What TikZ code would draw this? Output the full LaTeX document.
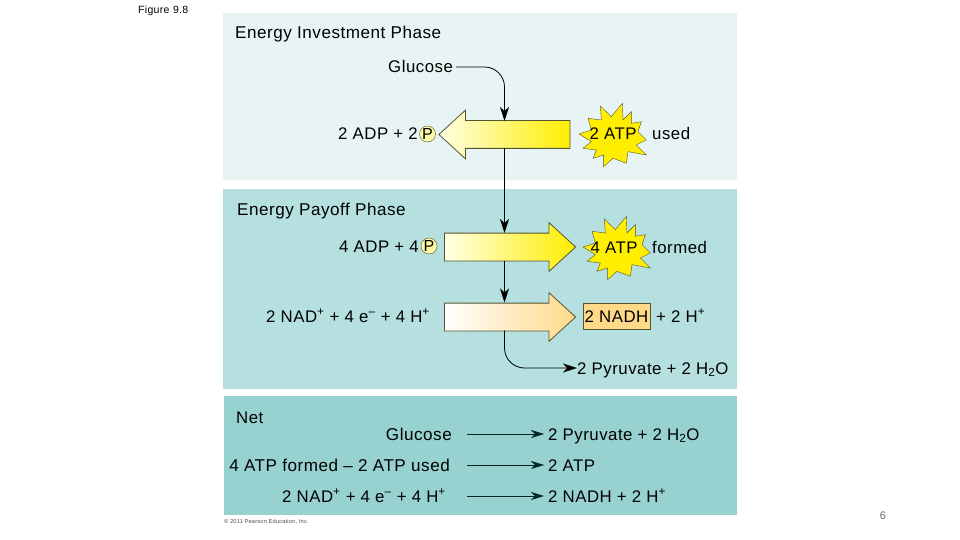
\documentclass[tikz,border=0pt]{standalone}
\usepackage{fontspec}
\setmainfont[LetterSpace=3]{Liberation Sans}
\usepackage{tikz}
\usetikzlibrary{positioning,arrows.meta,shapes.arrows}

\definecolor{paleteal}{HTML}{E8F4F4}
\definecolor{midteal}{HTML}{B5E0DF}
\definecolor{deepteal}{HTML}{97D2D1}
\definecolor{burst}{HTML}{FFEE00}
\definecolor{nadh}{HTML}{FFD98A}
\definecolor{edgeolive}{HTML}{55552F}

\newcommand{\atpburst}[2]{\draw[fill=burst, draw=edgeolive, shift={(#1,#2)}, x=.333pt, y=-.333pt]
    (-28,95) -- (0,70) -- (40,85) -- (45,50) -- (100,60) -- (70,30) -- (100,15) -- (75,-10)
    -- (85,-40) -- (55,-35) -- (55,-70) -- (30,-45) -- (28,-95) -- (-5,-55) -- (-38,-87)
    -- (-35,-45) -- (-75,-50) -- (-65,-15) -- (-102,-3) -- (-65,20) -- (-90,40) -- (-50,45)
    -- (-60,70) -- (-28,60) -- cycle;}

\begin{document}
\begin{tikzpicture}[x=1pt, y=-1pt]
        \tikzstyle{lbl}=[inner sep=0, text height=12pt, text depth=0pt, anchor=west, font=\fontsize{16.8}{18}\selectfont]
        \tikzstyle{widelbl}=[lbl, font=\fontsize{17.1}{18}\selectfont]
        \tikzstyle{blockarrow}=[single arrow, draw=edgeolive, thick, text height=27pt, text depth=0pt, minimum height=131pt, minimum width=48pt, single arrow head extend=10.5pt, single arrow tip angle=85, inner sep=0, outer sep=0]
        \tikzstyle{yellowarrow}=[blockarrow, left color=white!90!yellow, middle color=yellow!35!white, right color=burst]
        \tikzstyle{phos}=[circle, draw=edgeolive, fill=yellow!35!white, minimum size=16pt, inner sep=0, font=\fontsize{16}{18}\selectfont]
        \tikzstyle{flow}=[-{Stealth[length=14pt, width=9pt, inset=4pt]}, thick, black]
        \tikzstyle{netflow}=[-{Stealth[length=13pt, width=8pt, inset=4pt]}, black!70!teal, shorten >=4pt]

        \useasboundingbox (0,0) rectangle (960,540);
        \fill[paleteal] (223,13) rectangle (737,180);
        \fill[midteal]  (223,189) rectangle (737,389);
        \fill[deepteal] (224,396) rectangle (737,515);

        \node (fig)     at (138,10)  [lbl, text height=8pt, font=\fontsize{10.5}{13}\selectfont, text width=60pt] {Figure 9.8};
        \node (invest)  at (235,33)  [widelbl] {Energy Investment Phase};
        \node (payoff)  at (237,209) [widelbl] {Energy Payoff Phase};
        \node (glucose) at (388,67)  [lbl] {Glucose};

        \node (usearrow)  at (512,134.5)   [yellowarrow, shape border rotate=180] {};
        \node (formarrow) at (502.5,247)   [yellowarrow] {};
        \node (nadarrow)  at (502.5,317)   [blockarrow, left color=white, middle color=nadh!35!white, right color=nadh] {};

        \atpburst{613}{135}
        \atpburst{617}{248}

        \node (adp2)    at (338,134) [lbl] {2 ADP + 2};
        \node (phos2)   at (427.5,134) [phos] {P};
        \node (atp2)    at (613,134) [lbl, anchor=center] {2 ATP};
        \node (used)    at (652,134) [lbl] {used};

        \node (adp4)    at (339,246) [lbl] {4 ADP + 4};
        \node (phos4)   at (429,246) [phos] {P};
        \node (atp4)    at (614,247) [lbl, anchor=center] {4 ATP};
        \node (formed)  at (652,247) [lbl] {formed};

        \node (nad)     at (266,316) [lbl] {2 NAD\textsuperscript{+} + 4 e\textsuperscript{--} + 4 H\textsuperscript{+}};
        \node (nadhbox) at (616.5,316) [lbl, anchor=center, draw=edgeolive, fill=nadh, minimum width=67pt, minimum height=26pt] {2 NADH};
        \node (proton)  at (656,316) [lbl] {+ 2 H\textsuperscript{+}};
        \node (pyr)     at (577,368) [lbl] {2 Pyruvate + 2 H\textsubscript{2}O};

        \node (net)     at (236,417) [lbl] {Net};
        \node (netglu)  at (452,434) [widelbl, anchor=east] {Glucose};
        \node (netpyr)  at (548,434) [lbl] {2 Pyruvate + 2 H\textsubscript{2}O};
        \node (netuse)  at (450,465) [widelbl, anchor=east] {4 ATP formed -- 2 ATP used};
        \node (netatp)  at (548,465) [lbl] {2 ATP};
        \node (netnad)  at (446,496) [lbl, anchor=east] {2 NAD\textsuperscript{+} + 4 e\textsuperscript{--} + 4 H\textsuperscript{+}};
        \node (netnadh) at (548,496) [lbl] {2 NADH + 2 H\textsuperscript{+}};

        \node (credit)  at (224,521) [lbl, text height=4pt, font=\fontsize{5.7}{7}\selectfont, text=black!70] {\textcopyright{} 2011 Pearson Education, Inc.};
        \node (page)    at (883,515) [lbl, anchor=center, text height=8pt, font=\fontsize{11}{13}\selectfont, text=black!60] {6};

        \coordinate (useTop)  at (504.5,121);
        \coordinate (useBot)  at (504.5,148);
        \coordinate (formTop) at (504.5,233);
        \coordinate (formBot) at (504.5,260.5);
        \coordinate (nadTop)  at (504.5,302.5);
        \coordinate (nadBot)  at (504.5,330.5);
        \coordinate (tailGlu) at (467,434);
        \coordinate (tailUse) at (467,465);
        \coordinate (tailNad) at (467,496);

        \draw[flow, rounded corners=20pt, shorten <=3pt] (glucose.east) -| (useTop);
        \draw[flow, rounded corners=20pt] (nadBot) |- (pyr.west);
        \path[flow]  (useBot) edge (formTop)
                     (formBot) edge (nadTop);
        \draw[netflow] (tailGlu) -- (netpyr.west);
        \draw[netflow] (tailUse) -- (netatp.west);
        \draw[netflow, thick] (tailNad) -- (netnadh.west);
    \end{tikzpicture}
\end{document}
